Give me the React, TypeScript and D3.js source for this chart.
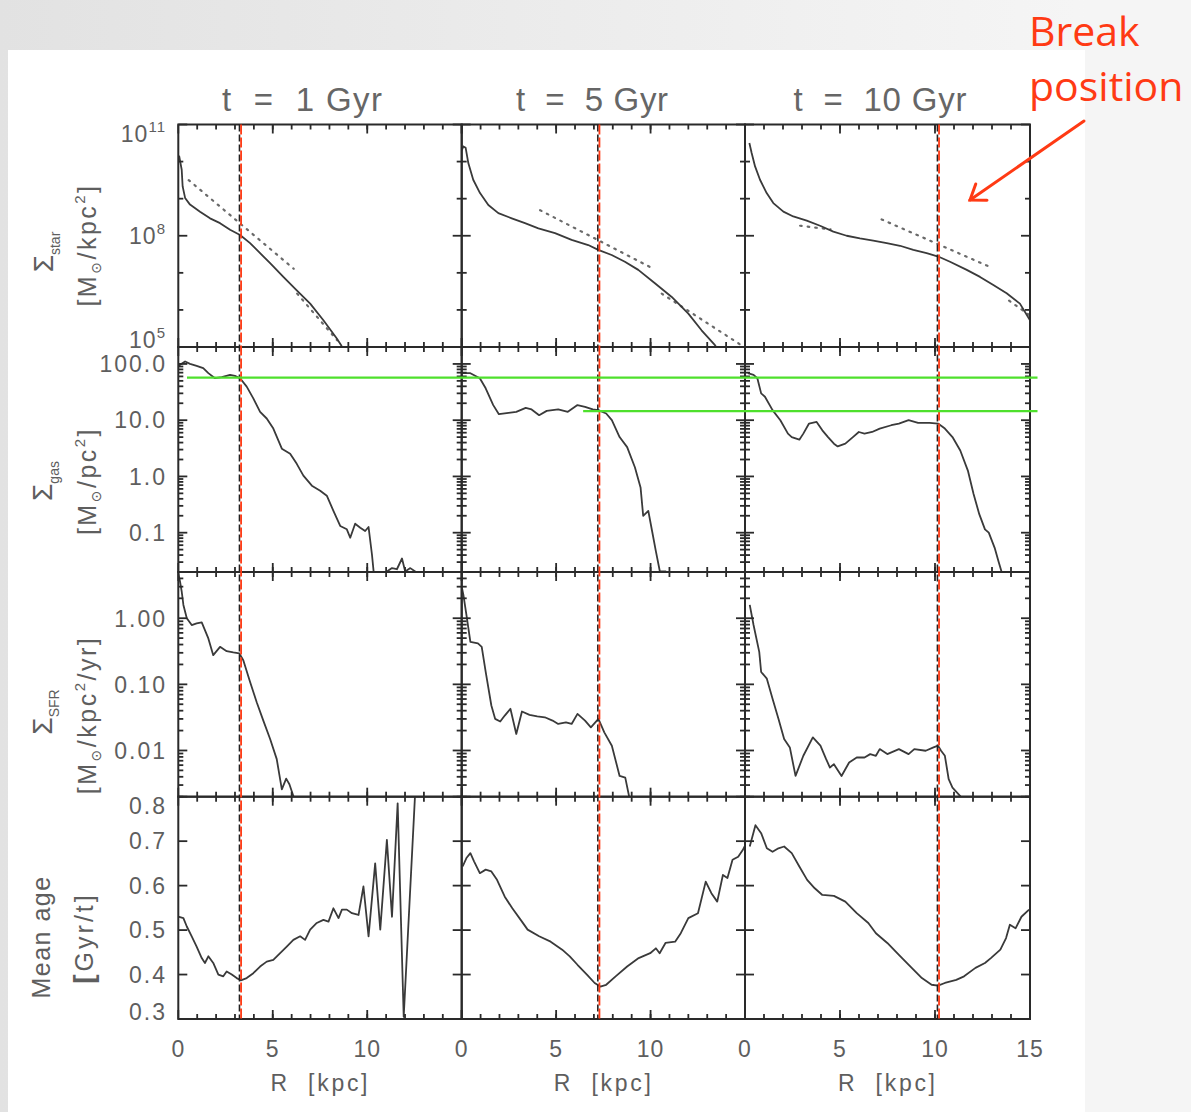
import React from 'react';
import * as d3 from 'd3';

// ---------------- data ----------------
const columnTitles = ['t  =  1 Gyr', 't  =  5 Gyr', 't  =  10 Gyr'];
const breakRadius = [3.27, 7.24, 10.16];
const xMajorTicks = [0, 5, 10, 15];
const xMinorTicks = d3.range(1, 15);
const xTickLabels = [['0', '5', '10'], ['0', '5', '10'], ['0', '5', '10', '15']];

// stellar surface density, [R kpc, log10 Sigma]
const starLog1Gyr = [[0, 10.05], [0.05, 10.14], [0.18, 9.78], [0.23, 9.33], [0.36, 9.02], [0.62, 8.84], [1.15, 8.65], [1.68, 8.47], [2.21, 8.34], [2.74, 8.16], [3.27, 8.02], [3.8, 7.8], [4.33, 7.53], [4.86, 7.26], [5.56, 6.89], [6.27, 6.53], [6.98, 6.17], [7.68, 5.72], [8.39, 5.23], [8.62, 5.05], [8.8, 4.8]];
const starLog5Gyr = [[0, 10.3], [0.09, 10.41], [0.21, 10.37], [0.35, 9.96], [0.61, 9.51], [0.97, 9.15], [1.41, 8.83], [1.94, 8.61], [2.65, 8.47], [3.35, 8.34], [4.06, 8.2], [4.94, 8.07], [5.82, 7.89], [6.7, 7.75], [7.23, 7.62], [7.94, 7.48], [8.64, 7.3], [9.35, 7.08], [10.23, 6.72], [11.12, 6.35], [12.0, 5.9], [12.7, 5.45], [13.41, 5.05], [13.6, 4.9]];
const starLog10Gyr = [[0.23, 10.5], [0.35, 10.23], [0.53, 9.87], [0.79, 9.51], [1.14, 9.15], [1.49, 8.88], [2.02, 8.65], [2.54, 8.52], [3.25, 8.41], [3.95, 8.27], [4.65, 8.11], [5.35, 8.0], [6.05, 7.93], [6.75, 7.87], [7.46, 7.8], [8.16, 7.73], [8.86, 7.62], [9.56, 7.53], [10.17, 7.44], [10.79, 7.3], [11.67, 7.08], [12.37, 6.89], [13.07, 6.67], [13.77, 6.45], [14.47, 6.17], [15.0, 5.72]];

// exponential fits (dotted), [R, log10 Sigma]
const fit1GyrInner = [[0.55, 9.5], [6.11, 7.11]];
const fit1GyrOuter = [[6.29, 6.44], [8.41, 5.18]];
const fit5GyrInner = [[4.15, 8.69], [10.15, 7.11]];
const fit5GyrOuter = [[10.59, 6.44], [14.83, 5.04]];
const fit10GyrInner = [[2.9, 8.27], [4.5, 8.17]];
const fit10GyrMid = [[7.19, 8.44], [12.89, 7.16]];
const fit10GyrOuter = [[13.9, 6.25], [15.0, 5.85]];

// gas surface density, [R, log10 Sigma_gas]
const gasLog1Gyr = [[0, 1.95], [0.09, 1.984], [0.36, 2.043], [0.62, 2.002], [0.97, 1.966], [1.32, 1.925], [1.59, 1.836], [1.94, 1.746], [2.3, 1.764], [2.74, 1.805], [3.0, 1.787], [3.27, 1.746], [3.62, 1.596], [3.97, 1.388], [4.33, 1.148], [4.68, 1.03], [5.03, 0.851], [5.48, 0.493], [5.92, 0.403], [6.27, 0.224], [6.62, 0.015], [7.07, -0.164], [7.51, -0.254], [7.86, -0.343], [8.21, -0.612], [8.57, -0.881], [8.92, -0.94], [9.1, -1.09], [9.36, -0.84], [9.63, -0.911], [9.89, -0.97], [10.07, -0.899], [10.25, -1.388], [10.4, -1.9], [11.0, -1.9], [11.04, -1.69], [11.31, -1.63], [11.57, -1.65], [11.84, -1.459], [12.01, -1.69], [12.28, -1.63], [12.54, -1.69], [12.6, -1.9]];
const gasLog5Gyr = [[0, 1.835], [0.46, 1.835], [0.96, 1.746], [1.27, 1.567], [1.67, 1.268], [1.97, 1.107], [2.48, 1.13], [2.89, 1.148], [3.39, 1.22], [3.7, 1.191], [4.1, 1.089], [4.5, 1.166], [5.11, 1.191], [5.62, 1.148], [6.13, 1.268], [6.53, 1.238], [6.94, 1.191], [7.24, 1.178], [7.65, 1.119], [7.95, 1.0], [8.36, 0.7], [8.76, 0.521], [9.17, 0.163], [9.47, -0.195], [9.61, -0.702], [9.88, -0.612], [10.08, -0.97], [10.28, -1.328], [10.49, -1.686], [10.8, -1.69], [10.85, -1.9]];
const gasLog10Gyr = [[0.15, 1.835], [0.45, 1.805], [0.65, 1.746], [0.85, 1.477], [1.05, 1.417], [1.45, 1.178], [1.86, 1.0], [2.26, 0.761], [2.46, 0.7], [2.86, 0.654], [3.07, 0.761], [3.37, 0.94], [3.77, 0.969], [4.07, 0.82], [4.37, 0.7], [4.68, 0.582], [4.88, 0.534], [5.28, 0.582], [5.68, 0.7], [5.99, 0.79], [6.29, 0.761], [6.69, 0.79], [7.09, 0.851], [7.7, 0.91], [8.1, 0.94], [8.61, 1.0], [9.11, 0.951], [9.72, 0.951], [10.16, 0.94], [10.52, 0.851], [10.92, 0.7], [11.33, 0.462], [11.73, 0.104], [12.03, -0.313], [12.33, -0.671], [12.63, -0.94], [12.83, -1.0], [13.14, -1.269], [13.34, -1.507], [13.5, -1.69], [13.55, -1.9]];

// star formation rate density, [R, log10 Sigma_SFR]
const sfrLog1Gyr = [[0, 0.68], [0.09, 0.556], [0.18, 0.404], [0.27, 0.201], [0.45, 0.0], [0.71, -0.103], [0.97, -0.077], [1.24, -0.062], [1.59, -0.305], [1.85, -0.559], [2.21, -0.433], [2.56, -0.498], [2.91, -0.518], [3.23, -0.533], [3.44, -0.635], [3.8, -0.965], [4.15, -1.27], [4.5, -1.548], [4.86, -1.827], [5.21, -2.131], [5.48, -2.587], [5.71, -2.426], [5.88, -2.511], [6.09, -2.689], [6.15, -2.9]];
const sfrLog5Gyr = [[0.02, 0.45], [0.09, 0.354], [0.25, 0.049], [0.46, -0.357], [0.86, -0.381], [1.06, -0.433], [1.27, -0.813], [1.57, -1.32], [1.77, -1.522], [2.04, -1.563], [2.28, -1.472], [2.58, -1.37], [2.89, -1.75], [3.19, -1.411], [3.59, -1.461], [4.0, -1.483], [4.4, -1.498], [4.81, -1.548], [5.11, -1.599], [5.52, -1.574], [5.82, -1.599], [6.13, -1.446], [6.53, -1.548], [6.84, -1.65], [7.24, -1.522], [7.55, -1.726], [7.95, -1.928], [8.36, -2.385], [8.66, -2.411], [8.86, -2.689], [8.9, -2.9]];
const sfrLog10Gyr = [[0.25, 0.201], [0.45, -0.103], [0.75, -0.509], [0.85, -0.813], [1.15, -0.914], [1.45, -1.218], [1.76, -1.522], [2.06, -1.827], [2.36, -1.954], [2.66, -2.385], [3.07, -2.08], [3.57, -1.802], [3.97, -1.928], [4.27, -2.131], [4.47, -2.258], [4.68, -2.207], [5.08, -2.385], [5.48, -2.182], [5.88, -2.106], [6.29, -2.106], [6.59, -2.055], [6.89, -2.08], [7.09, -1.979], [7.49, -2.055], [8.1, -1.979], [8.61, -2.055], [8.91, -1.979], [9.51, -2.004], [9.92, -1.954], [10.16, -1.928], [10.32, -2.004], [10.52, -2.08], [10.72, -2.435], [10.92, -2.562], [11.33, -2.689], [11.4, -2.9]];

// mean stellar age [Gyr/t]
const age1Gyr = [[0, 0.53], [0.27, 0.527], [0.45, 0.508], [0.71, 0.486], [0.97, 0.463], [1.24, 0.437], [1.41, 0.426], [1.59, 0.441], [1.85, 0.426], [2.12, 0.4], [2.38, 0.396], [2.56, 0.407], [2.83, 0.4], [3.09, 0.392], [3.31, 0.387], [3.62, 0.392], [3.97, 0.403], [4.33, 0.418], [4.68, 0.429], [5.03, 0.433], [5.39, 0.448], [5.74, 0.463], [6.09, 0.478], [6.45, 0.486], [6.71, 0.478], [6.98, 0.501], [7.33, 0.516], [7.68, 0.523], [7.95, 0.519], [8.21, 0.549], [8.48, 0.527], [8.66, 0.546], [8.92, 0.546], [9.19, 0.538], [9.54, 0.534], [9.8, 0.598], [10.07, 0.486], [10.42, 0.65], [10.69, 0.501], [11.04, 0.703], [11.31, 0.53], [11.61, 0.785], [11.93, 0.305], [12.55, 0.82], [12.6, 0.85]];
const age5Gyr = [[0.05, 0.643], [0.25, 0.662], [0.46, 0.673], [0.66, 0.654], [0.96, 0.628], [1.27, 0.636], [1.57, 0.632], [1.87, 0.613], [2.28, 0.575], [2.68, 0.549], [3.19, 0.519], [3.49, 0.501], [4.1, 0.486], [4.71, 0.474], [5.32, 0.456], [5.72, 0.441], [6.13, 0.422], [6.63, 0.4], [7.04, 0.381], [7.34, 0.373], [7.65, 0.377], [8.15, 0.396], [8.76, 0.418], [9.37, 0.437], [9.98, 0.448], [10.28, 0.459], [10.48, 0.448], [10.79, 0.471], [11.3, 0.474], [11.6, 0.493], [12.0, 0.527], [12.51, 0.538], [12.92, 0.609], [13.22, 0.583], [13.53, 0.564], [13.83, 0.624], [14.07, 0.617], [14.34, 0.658], [14.64, 0.665], [14.88, 0.68], [15, 0.69]];
const age10Gyr = [[0.25, 0.688], [0.55, 0.736], [0.85, 0.718], [1.15, 0.684], [1.45, 0.676], [1.76, 0.684], [2.06, 0.688], [2.46, 0.673], [2.86, 0.643], [3.27, 0.613], [3.67, 0.594], [4.07, 0.579], [4.68, 0.577], [5.28, 0.564], [5.88, 0.538], [6.49, 0.516], [6.89, 0.493], [7.49, 0.471], [8.1, 0.444], [8.71, 0.418], [9.31, 0.392], [9.82, 0.377], [10.16, 0.375], [10.52, 0.381], [11.12, 0.388], [11.53, 0.396], [12.13, 0.415], [12.63, 0.426], [12.94, 0.437], [13.44, 0.456], [13.74, 0.482], [13.94, 0.512], [14.24, 0.504], [14.55, 0.53], [14.95, 0.546]];

// green reference gas levels [M_sun/pc^2], with start column and radius
const greenLevels = [57, 14.5];
const greenStartCol = [0, 1];
const greenStartR = [0.46, 6.43];

// axes
const starDomain = [1e5, 1e11];
const starTickExp = [5, 8, 11];
const gasDomain = [0.02, 200];
const gasTicks = [0.1, 1, 10, 100];
const gasTickLabels = ['0.1', '1.0', '10.0', '100.0'];
const sfrDomain = [0.002, 5];
const sfrTicks = [0.01, 0.1, 1];
const sfrTickLabels = ['0.01', '0.10', '1.00'];
const ageDomain = [0.3, 0.8];
const ageTicks = [0.3, 0.4, 0.5, 0.6, 0.7, 0.8];
const ageTickLabels = ['0.3', '0.4', '0.5', '0.6', '0.7', '0.8'];

// ---------------- layout ----------------
const W = 1191;
const H = 1112;
const colLeft = [178.3, 461.7, 745];
const colRight = [461.7, 745, 1030];
const rowTop = [124.5, 347, 572, 796.7];
const rowBottom = [347, 572, 796.7, 1019];
const FONT = "'Liberation Sans', Arial, sans-serif";
const TXT = '#5e5e5e';
const CURVE = '#3a3a3a';
const RED = '#ff3a14';

const fromLog = (a: number[][]) => a.map(([r, l]) => [r, Math.pow(10, l)]);

export default function App() {
  const xScales = colLeft.map((l, i) => d3.scaleLinear().domain([0, 15]).range([l, colRight[i]]));
  const yScales: any[] = [
    d3.scaleLog().domain(starDomain).range([rowBottom[0], rowTop[0]]),
    d3.scaleLog().domain(gasDomain).range([rowBottom[1], rowTop[1]]),
    d3.scaleLog().domain(sfrDomain).range([rowBottom[2], rowTop[2]]),
    d3.scaleLinear().domain(ageDomain).range([rowBottom[3], rowTop[3]]),
  ];
  const series = [
    [starLog1Gyr, starLog5Gyr, starLog10Gyr].map(fromLog),
    [gasLog1Gyr, gasLog5Gyr, gasLog10Gyr].map(fromLog),
    [sfrLog1Gyr, sfrLog5Gyr, sfrLog10Gyr].map(fromLog),
    [age1Gyr, age5Gyr, age10Gyr],
  ];
  const fits = [
    [fit1GyrInner, fit1GyrOuter],
    [fit5GyrInner, fit5GyrOuter],
    [fit10GyrInner, fit10GyrMid, fit10GyrOuter],
  ].map((fs) => fs.map(fromLog));

  const starDecades = d3.range(5, 12).map((e) => Math.pow(10, e));
  const isDecade = (v: number) => Math.abs(Math.log10(v) - Math.round(Math.log10(v))) < 1e-6;
  const yTickSets: [number, boolean][][] = [
    starDecades.map((v) => [v, starTickExp.includes(Math.round(Math.log10(v)))]),
    yScales[1].ticks().map((v: number) => [v, isDecade(v)]),
    yScales[2].ticks().map((v: number) => [v, isDecade(v)]),
    ageTicks.map((v) => [v, true]),
  ];

  const clampLabel = (y: number, r: number) => Math.max(rowTop[r] + 9, Math.min(rowBottom[r] - 7, y));

  const panels: JSX.Element[] = [];
  for (let r = 0; r < 4; r++) {
    for (let c = 0; c < 3; c++) {
      const x = xScales[c];
      const y = yScales[r];
      const line = d3.line<number[]>().x((d) => x(d[0])).y((d) => y(d[1]));
      const id = `clip-${r}-${c}`;
      const l = colLeft[c], rr = colRight[c], t = rowTop[r], b = rowBottom[r];
      const ticks: JSX.Element[] = [];
      xMajorTicks.concat(xMinorTicks).forEach((v, i) => {
        const len = i < xMajorTicks.length ? 9 : 5;
        const px = x(v);
        ticks.push(<line key={`xt${i}`} x1={px} x2={px} y1={b} y2={b - len} />);
        ticks.push(<line key={`xb${i}`} x1={px} x2={px} y1={t} y2={t + len} />);
      });
      yTickSets[r].forEach(([v, major], i) => {
        const py = y(v);
        if (py < t - 0.5 || py > b + 0.5) return;
        const len = major ? 9 : 5;
        ticks.push(<line key={`yl${i}`} x1={l} x2={l + len} y1={py} y2={py} />);
        ticks.push(<line key={`yr${i}`} x1={rr} x2={rr - len} y1={py} y2={py} />);
      });
      panels.push(
        <g key={id}>
          <clipPath id={id}>
            <rect x={l} y={t} width={rr - l} height={b - t} />
          </clipPath>
          {r === 0 &&
            fits[c].map((f, i) => (
              <path key={i} d={line(f) || ''} fill="none" stroke="#6a6a6a" strokeWidth={2.2}
                strokeDasharray="1.6,6" strokeLinecap="round" clipPath={`url(#${id})`} />
            ))}
          <path d={line(series[r][c]) || ''} fill="none" stroke={CURVE} strokeWidth={1.8}
            strokeLinejoin="round" clipPath={`url(#${id})`} />
          <g stroke="#2a2a2a" strokeWidth={1.8}>{ticks}</g>
          <rect x={l} y={t} width={rr - l} height={b - t} fill="none" stroke="#2a2a2a" strokeWidth={2} />
        </g>
      );
    }
  }

  const yLabels: JSX.Element[] = [];
  starTickExp.forEach((e, i) => {
    const py = clampLabel(yScales[0](Math.pow(10, e)), 0);
    yLabels.push(
      <text key={`s${i}`} x={166} y={py} dy="0.35em" textAnchor="end" fontSize={23} letterSpacing={1}>
        10<tspan dy={-10} fontSize={15}>{e}</tspan>
      </text>
    );
  });
  const simpleSets: [number[], string[], number][] = [
    [gasTicks, gasTickLabels, 1],
    [sfrTicks, sfrTickLabels, 2],
    [ageTicks, ageTickLabels, 3],
  ];
  simpleSets.forEach(([vals, labs, r]) => {
    vals.forEach((v, i) => {
      const py = clampLabel(yScales[r](v), r);
      yLabels.push(
        <text key={`l${r}-${i}`} x={167} y={py} dy="0.36em" textAnchor="end" fontSize={23} letterSpacing={2}>
          {labs[i]}
        </text>
      );
    });
  });

  const xLabels: JSX.Element[] = [];
  xTickLabels.forEach((labs, c) => {
    labs.forEach((lab, i) => {
      xLabels.push(
        <text key={`x${c}-${i}`} x={xScales[c](xMajorTicks[i])} y={1057} textAnchor="middle" fontSize={23} letterSpacing={1}>
          {lab}
        </text>
      );
    });
  });

  const greenY = greenLevels.map((g) => yScales[1](g));
  const arrowTip = [970, 200];
  const arrowTail = [1084, 121];
  const ang = Math.atan2(arrowTail[1] - arrowTip[1], arrowTail[0] - arrowTip[0]);
  const hl = 17;
  const wing = (da: number) => [arrowTip[0] + hl * Math.cos(ang + da), arrowTip[1] + hl * Math.sin(ang + da)];
  const w1 = wing(0.62);
  const w2 = wing(-0.62);

  return (
    <svg width={W} height={H} style={{ position: 'absolute', left: 0, top: 0, display: 'block' }}
      fontFamily={FONT} fill={TXT}>
      <defs>
        <linearGradient id="bg" x1="0" x2="1" y1="0" y2="0">
          <stop offset="0" stopColor="#e2e2e2" />
          <stop offset="1" stopColor="#f7f7f7" />
        </linearGradient>
      </defs>
      <rect x={0} y={0} width={W} height={H} fill="url(#bg)" />
      <rect x={1085} y={0} width={W - 1085} height={H} fill="#f5f5f5" />
      <rect x={8} y={50} width={1077} height={H - 50} fill="#ffffff" />

      {columnTitles.map((tt, c) => (
        <text key={tt} x={[302, 592, 880][c]} y={111} textAnchor="middle" fontSize={33} fill="#666"
          style={{ whiteSpace: 'pre' }} textLength={[160, 152, 173][c]} lengthAdjust="spacing">
          {tt}
        </text>
      ))}

      {panels}

      {breakRadius.map((br, c) => {
        const px = xScales[c](br);
        return (
          <g key={`br${c}`}>
            <line x1={px - 0.6} x2={px - 0.6} y1={rowTop[0]} y2={rowBottom[3]} stroke="#222" strokeWidth={1.6} strokeDasharray="7,3" />
            <line x1={px + 1} x2={px + 1} y1={rowTop[0]} y2={rowBottom[3]} stroke={RED} strokeWidth={1.8} strokeDasharray="10,3" />
          </g>
        );
      })}

      {greenLevels.map((g, i) => (
        <line key={`g${i}`} x1={xScales[greenStartCol[i]](greenStartR[i])} x2={1037.5} y1={greenY[i]} y2={greenY[i]}
          stroke="#4ee02c" strokeWidth={2.4} />
      ))}

      {yLabels}
      {xLabels}
      {[0, 1, 2].map((c) => (
        <text key={`rk${c}`} x={(colLeft[c] + colRight[c]) / 2 - 1} y={1091} textAnchor="middle" fontSize={23}
          style={{ whiteSpace: 'pre' }} textLength={97} lengthAdjust="spacing">
          {'R  [kpc]'}
        </text>
      ))}

      <g fontSize={25}>
        <text transform="translate(53,252) rotate(-90)" textAnchor="middle" fontSize={28}>
          Σ<tspan fontSize={14} dy={7}>star</tspan>
        </text>
        <text transform="translate(96,245) rotate(-90)" textAnchor="middle" letterSpacing={2.5}>
          [M<tspan fontSize={14} dy={5} fontFamily="'DejaVu Sans'">⊙</tspan><tspan dy={-5}>/kpc</tspan><tspan fontSize={15} dy={-11}>2</tspan><tspan dy={11}>]</tspan>
        </text>

        <text transform="translate(52,481) rotate(-90)" textAnchor="middle" fontSize={28}>
          Σ<tspan fontSize={14} dy={7}>gas</tspan>
        </text>
        <text transform="translate(96,481) rotate(-90)" textAnchor="middle" letterSpacing={2.5}>
          [M<tspan fontSize={14} dy={5} fontFamily="'DejaVu Sans'">⊙</tspan><tspan dy={-5}>/pc</tspan><tspan fontSize={15} dy={-11}>2</tspan><tspan dy={11}>]</tspan>
        </text>

        <text transform="translate(52,712) rotate(-90)" textAnchor="middle" fontSize={28}>
          Σ<tspan fontSize={14} dy={7}>SFR</tspan>
        </text>
        <text transform="translate(96,715) rotate(-90)" textAnchor="middle" letterSpacing={2.5}>
          [M<tspan fontSize={14} dy={5} fontFamily="'DejaVu Sans'">⊙</tspan><tspan dy={-5}>/kpc</tspan><tspan fontSize={15} dy={-11}>2</tspan><tspan dy={11}>/yr]</tspan>
        </text>

        <text transform="translate(50,937) rotate(-90)" textAnchor="middle" letterSpacing={1.5}>
          Mean age
        </text>
        <text transform="translate(93,938) rotate(-90)" textAnchor="middle" letterSpacing={3}>
          <tspan fontWeight="bold" fontSize={28}>[</tspan>Gyr/t]
        </text>
      </g>

      <g fill={RED} fontFamily="'Open Sans', sans-serif" fontSize={41}>
        <text x={1029} y={46}>Break</text>
        <text x={1029} y={101}>position</text>
      </g>
      <g stroke={RED} strokeWidth={3} fill="none" strokeLinecap="round">
        <line x1={arrowTail[0]} y1={arrowTail[1]} x2={arrowTip[0]} y2={arrowTip[1]} />
        <path d={`M${w1[0]},${w1[1]} L${arrowTip[0]},${arrowTip[1]} L${w2[0]},${w2[1]}`} />
      </g>
    </svg>
  );
}
